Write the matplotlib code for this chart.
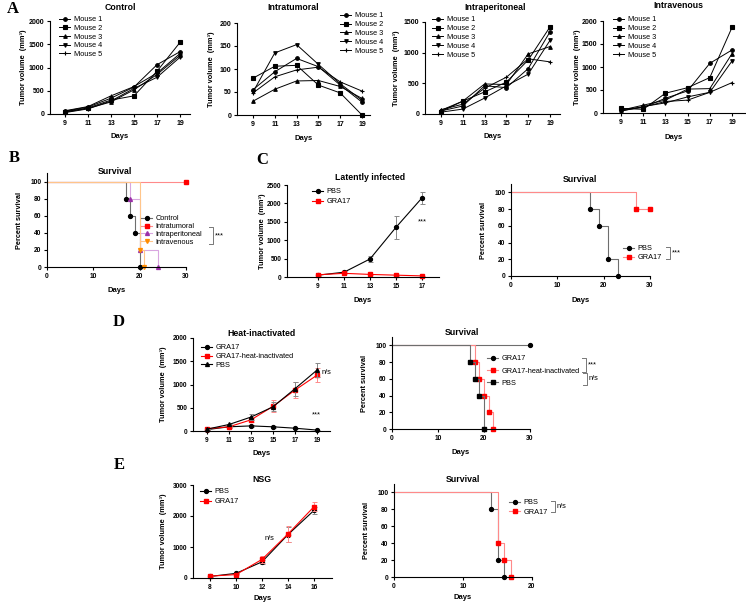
import matplotlib
matplotlib.use("Agg")
import matplotlib.pyplot as plt
from matplotlib.lines import Line2D

W, H = 746, 603
plt.rcParams['font.family'] = ['Liberation Sans', 'DejaVu Sans']
plt.rcParams['axes.linewidth'] = 0.8

# ---- data ----
days_a = [9, 11, 13, 15, 17, 19]
mouse_labels = ['Mouse 1', 'Mouse 2', 'Mouse 3', 'Mouse 4', 'Mouse 5']
mouse_markers = ['o', 's', '^', 'v', '+']

control_vol = [[60, 150, 340, 580, 1060, 1340],
               [50, 130, 300, 390, 920, 1540],
               [40, 120, 260, 520, 850, 1260],
               [30, 110, 280, 550, 790, 1220],
               [70, 160, 390, 590, 880, 1300]]
intratumoral_vol = [[55, 94, 123, 105, 65, 28],
                    [80, 106, 108, 65, 48, 0],
                    [30, 56, 74, 75, 62, 36],
                    [50, 135, 153, 110, 68, 32],
                    [48, 83, 98, 104, 72, 52]]
intraperitoneal_vol = [[50, 130, 460, 430, 740, 1340],
                       [40, 210, 360, 520, 880, 1420],
                       [60, 210, 490, 480, 980, 1100],
                       [30, 80, 260, 460, 650, 1200],
                       [70, 160, 420, 600, 900, 850]]
intravenous_vol = [[80, 120, 320, 480, 1080, 1370],
                   [100, 80, 430, 550, 770, 1860],
                   [60, 170, 280, 520, 530, 1290],
                   [40, 140, 220, 350, 450, 1130],
                   [50, 130, 250, 280, 450, 660]]

# survival, panel B
surv_b = {
    'Control': ([0, 17, 18, 19, 20], [100, 80, 60, 40, 0]),
    'Intratumoral': ([0, 30], [100, 100]),
    'Intraperitoneal': ([0, 18, 20, 24], [100, 80, 20, 0]),
    'Intravenous': ([0, 20, 21], [100, 20, 0]),
}

# panel C, latently infected
days_c = [9, 11, 13, 15, 17]
pbs_c = [50, 130, 490, 1350, 2150]
pbs_c_err = [10, 30, 90, 320, 170]
gra_c = [60, 100, 70, 50, 30]
gra_c_err = [10, 20, 20, 15, 10]
surv_c = {
    'PBS': ([0, 17, 19, 21, 23], [100, 80, 60, 20, 0]),
    'GRA17': ([0, 27, 30], [100, 80, 80]),
}

# panel D, heat-inactivated
days_d = [9, 11, 13, 15, 17, 19]
gra_d = [30, 90, 110, 90, 60, 20]
gra_d_err = [10, 15, 20, 15, 15, 10]
heat_d = [50, 90, 240, 530, 880, 1200]
heat_d_err = [10, 20, 50, 130, 180, 150]
pbs_d = [40, 140, 300, 520, 910, 1310]
pbs_d_err = [10, 20, 60, 100, 150, 150]
surv_d = {
    'GRA17': ([0, 30], [100, 100]),
    'GRA17-heat-inactivated': ([0, 18, 19, 20, 21, 22], [100, 80, 60, 40, 20, 0]),
    'PBS': ([0, 17, 18, 19, 20], [100, 80, 60, 40, 0]),
}

# panel E, NSG
days_e = [8, 10, 12, 14, 16]
pbs_e = [50, 150, 520, 1400, 2180]
pbs_e_err = [10, 20, 60, 250, 100]
gra_e = [60, 110, 600, 1420, 2300]
gra_e_err = [10, 20, 100, 250, 150]
surv_e = {
    'PBS': ([0, 14, 15, 16], [100, 80, 20, 0]),
    'GRA17': ([0, 15, 16, 17], [100, 40, 20, 0]),
}

fig = plt.figure(figsize=(W / 100, H / 100), dpi=100)


def fx(x):
    return x / W


def fy(y):
    return 1 - y / H


def make_ax(left, top, right, bottom, px0, v0, px1, v1, ylim, yticks, xticks,
            ylab_x, xlab_y, ylabel='Tumor volume  (mm³)', tfs=5):
    ax = fig.add_axes([fx(left), fy(bottom), (right - left) / W, (bottom - top) / H])
    k = (v1 - v0) / (px1 - px0)
    ax.set_xlim(v0 + (left - px0) * k, v0 + (right - px0) * k)
    ax.set_ylim(*ylim)
    ax.set_yticks(yticks)
    ax.set_xticks(xticks)
    for s in ['top', 'right']:
        ax.spines[s].set_visible(False)
    ax.tick_params(length=2.5, width=0.8, pad=1.5, labelsize=tfs)
    for lab in ax.get_xticklabels() + ax.get_yticklabels():
        lab.set_fontweight('bold')
    ax.set_ylabel(ylabel, fontsize=5.3, fontweight='bold')
    ax.set_xlabel('Days', fontsize=5.5, fontweight='bold')
    ax.yaxis.set_label_coords((ylab_x - left) / (right - left), 0.5)
    ax.xaxis.set_label_coords(0.5, -(xlab_y - bottom) / (bottom - top))
    ax.patch.set_alpha(0)
    return ax


def legend(ax, handles, labels, x, y, row, fs=5.3):
    fpx = fs * 100 / 72
    ax.legend(handles, labels, loc='upper left',
              bbox_to_anchor=(fx(x), fy(y - fpx / 2)), bbox_transform=fig.transFigure,
              frameon=False, fontsize=fs, borderpad=0, borderaxespad=0,
              handlelength=1.5, handletextpad=0.5,
              labelspacing=max(row / fpx - 1.0, 0))


def title(x, y, s):
    fig.text(fx(x), fy(y), s, ha='center', va='center', fontsize=6.3, fontweight='bold')


def bracket(x, y0, y1, text, dx=4):
    c = '#777777'
    fig.add_artist(Line2D([fx(x - dx), fx(x), fx(x), fx(x - dx)],
                          [fy(y0), fy(y0), fy(y1), fy(y1)], color=c, lw=0.7))
    fig.text(fx(x + 2), fy((y0 + y1) / 2), text, ha='left', va='center', fontsize=5.3)


def mouse_panel(vols, box, refs, ylim, yticks, ylab_x, xlab_y, ttl, leg):
    ax = make_ax(*box, *refs, ylim, yticks, days_a, ylab_x, xlab_y)
    hs = []
    for v, m in zip(vols, mouse_markers):
        h, = ax.plot(days_a, v, color='black', lw=0.7, marker=m, ms=2.6, mew=0.8, clip_on=False)
        hs.append(h)
    legend(ax, hs, mouse_labels, *leg)
    title(*ttl)
    return ax


# ---- panel A ----
mouse_panel(control_vol, (50, 21, 190, 114), (65, 9, 180, 19), (0, 2000), range(0, 2001, 500),
            27, 133, (120, 7, 'Control'), (59, 20, 8.8))
mouse_panel(intratumoral_vol, (237, 23, 370, 115), (253, 9, 362, 19), (0, 200), range(0, 201, 50),
            215, 135, (293, 8, 'Intratumoral'), (340, 16, 9))
mouse_panel(intraperitoneal_vol, (425, 22, 560, 114), (441, 9, 550, 19), (0, 1500), range(0, 1501, 500),
            400, 133, (495, 7, 'Intraperitoneal'), (432, 20, 9))
mouse_panel(intravenous_vol, (603, 21, 745, 113), (621, 9, 732, 19), (0, 2000), range(0, 2001, 500),
            581, 134, (678, 6, 'Intravenous'), (613, 20, 9))


def surv_panel(box, refs, xticks, ylab_x, xlab_y, data, styles):
    ax = make_ax(*box, *refs, (0, 110), range(0, 101, 20), xticks, ylab_x, xlab_y,
                 ylabel='Percent survival', tfs=4.8)
    hs = []
    for (name, (t, s)), (mc, lc, m) in zip(data.items(), styles):
        ax.step(t, s, where='post', color=lc, lw=0.8, clip_on=False)
        ax.plot(t[1:], s[1:], ls='none', marker=m, color=mc, ms=2.8, clip_on=False)
        hs.append(Line2D([], [], color=lc, lw=0.8, marker=m, mfc=mc, mec=mc, ms=2.8))
    return ax, hs, list(data.keys())


BLACK = ('black', '#6e6e6e', 'o')
RED_SQ = ('#ff0000', '#ff8a8a', 's')

# ---- panel B ----
ax, hs, labs = surv_panel((47, 173, 186, 267), (47, 0, 186, 30), [0, 10, 20, 30], 23, 287, surv_b,
                          [BLACK, RED_SQ, ('#9a2fa8', '#d9a6e0', '^'), ('#ff8c00', '#ffc58a', 'v')])
legend(ax, hs, labs, 141, 219, 8)
title(115, 172, 'Survival')
bracket(213, 227, 244, '***')


def growth_panel(box, refs, ylim, yticks, xticks, ylab_x, xlab_y, days, series):
    ax = make_ax(*box, *refs, ylim, yticks, xticks, ylab_x, xlab_y, tfs=4.7)
    hs = []
    for vals, err, col, ecol, m in series:
        ax.errorbar(days, vals, yerr=err, fmt='none', ecolor=ecol, elinewidth=0.7,
                    capsize=1.8, capthick=0.7, clip_on=False)
        h, = ax.plot(days, vals, color=col, lw=0.8, marker=m, ms=2.8, clip_on=False)
        hs.append(h)
    return ax, hs


# ---- panel C ----
ax, hs = growth_panel((287, 185, 439, 277), (318, 9, 422, 17), (0, 2500), range(0, 2501, 500), days_c,
                      266, 297, days_c,
                      [(pbs_c, pbs_c_err, 'black', '#888888', 'o'),
                       (gra_c, gra_c_err, '#ff0000', '#ff8a8a', 's')])
legend(ax, hs, ['PBS', 'GRA17'], 312, 192, 10)
title(370, 177, 'Latently infected')
fig.text(fx(422), fy(222), '***', ha='center', va='center', fontsize=5.3)

ax, hs, labs = surv_panel((511, 184, 650, 276), (511, 0, 650, 30), [0, 10, 20, 30], 487, 297, surv_c,
                          [BLACK, RED_SQ])
legend(ax, hs, labs, 623, 249, 9)
title(580, 179, 'Survival')
bracket(670, 247, 259, '***')

# ---- panel D ----
ax, hs = growth_panel((193, 338, 330, 431), (207, 9, 317, 19), (0, 2000), range(0, 2001, 500), days_d,
                      167, 450, days_d,
                      [(gra_d, gra_d_err, 'black', '#888888', 'o'),
                       (heat_d, heat_d_err, '#ff0000', '#ff8a8a', 's'),
                       (pbs_d, pbs_d_err, 'black', '#888888', '^')])
legend(ax, hs, ['GRA17', 'GRA17-heat-inactivated', 'PBS'], 201, 348, 9)
title(262, 334, 'Heat-inactivated')
fig.text(fx(322), fy(372), 'n/s', ha='left', va='center', fontsize=5.3)
fig.text(fx(316), fy(415), '***', ha='center', va='center', fontsize=5.3)

ax, hs, labs = surv_panel((392, 337, 530, 429), (392, 0, 530, 30), [0, 10, 20, 30], 368, 449, surv_d,
                          [BLACK, RED_SQ, ('black', '#6e6e6e', 's')])
legend(ax, hs, labs, 487, 359, 12.5)
title(462, 332, 'Survival')
bracket(586, 358, 372, '***')
bracket(587, 373, 385, 'n/s')

# ---- panel E ----
ax, hs = growth_panel((193, 485, 332, 578), (210, 8, 314, 16), (0, 3000), range(0, 3001, 1000), days_e,
                      167, 595, days_e,
                      [(pbs_e, pbs_e_err, 'black', '#888888', 'o'),
                       (gra_e, gra_e_err, '#ff0000', '#ff8a8a', 's')])
legend(ax, hs, ['PBS', 'GRA17'], 200, 492, 10)
title(262, 480, 'NSG')
fig.text(fx(269), fy(539), 'n/s', ha='center', va='center', fontsize=5.3)

ax, hs, labs = surv_panel((394, 484, 532, 577), (394, 0, 532, 20), [0, 10, 20], 370, 594, surv_e,
                          [BLACK, RED_SQ])
legend(ax, hs, labs, 509, 503, 9.5)
title(463, 480, 'Survival')
bracket(555, 501, 512, 'n/s')

# panel letters
for x, y, s in [(13, 9, 'A'), (14, 158, 'B'), (262, 160, 'C'), (119, 322, 'D'), (119, 465, 'E')]:
    fig.text(fx(x), fy(y), s, ha='center', va='center', fontsize=12, fontweight='bold',
             family=['Liberation Serif', 'DejaVu Serif'])

fig.savefig('out.png', dpi=100)
